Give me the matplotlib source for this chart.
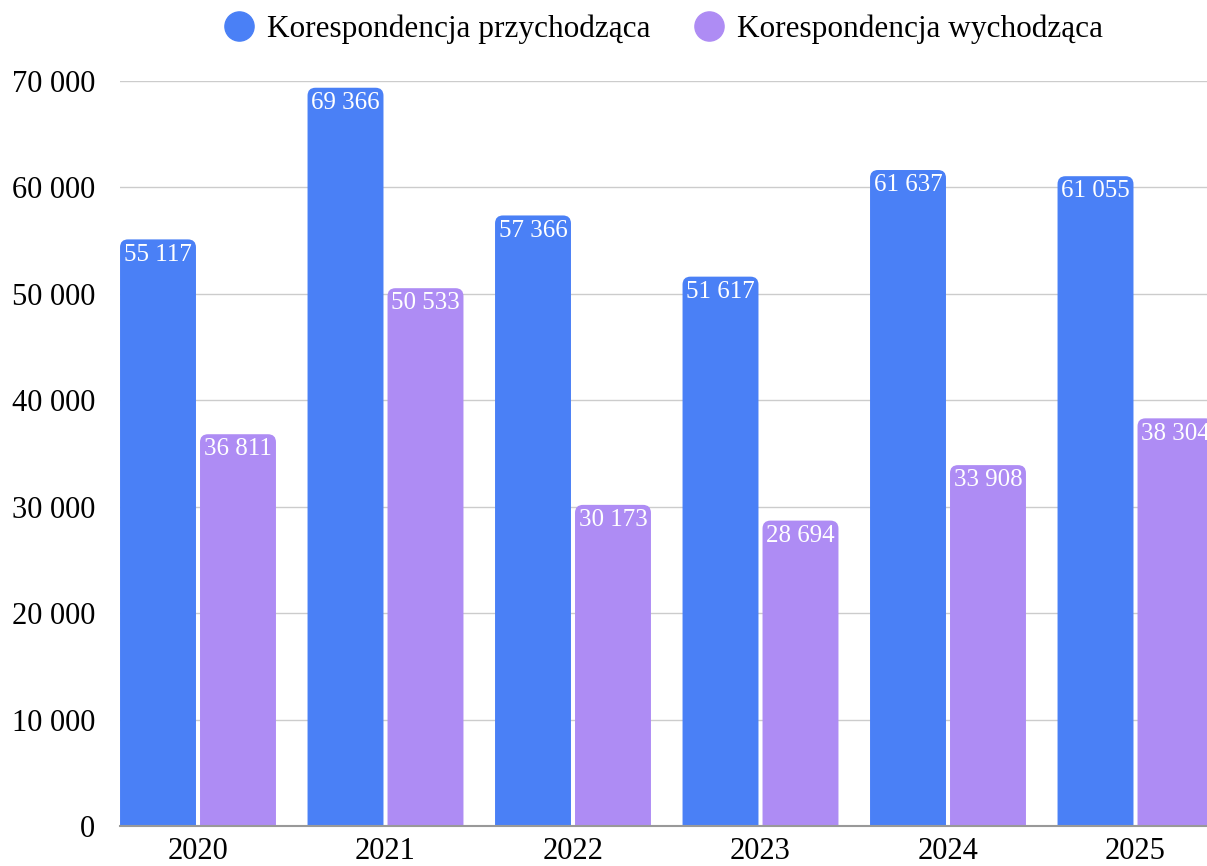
import numpy as np
import matplotlib.pyplot as plt
from matplotlib.path import Path
from matplotlib.patches import PathPatch
from matplotlib.lines import Line2D

years = ["2020", "2021", "2022", "2023", "2024", "2025"]
incoming = [55117, 69366, 57366, 51617, 61637, 61055]
outgoing = [36811, 50533, 30173, 28694, 33908, 38304]
series_names = ["Korespondencja przychodząca", "Korespondencja wychodząca"]
colors = ["#4a80f6", "#ae8cf4"]

plt.rcParams['font.family'] = ['Liberation Serif', 'DejaVu Serif']


def fmt(v):
    return f"{v:,}".replace(",", " ")


def rounded_bar(ax, x0, w, h, rx, ry, color):
    # bar with rounded top corners
    verts = [(x0, 0), (x0, h - ry), (x0, h), (x0 + rx, h),
             (x0 + w - rx, h), (x0 + w, h), (x0 + w, h - ry),
             (x0 + w, 0), (x0, 0)]
    codes = [Path.MOVETO, Path.LINETO, Path.CURVE3, Path.CURVE3,
             Path.LINETO, Path.CURVE3, Path.CURVE3, Path.LINETO, Path.CLOSEPOLY]
    ax.add_patch(PathPatch(Path(verts, codes), facecolor=color,
                           edgecolor="none", zorder=3))


fig = plt.figure(figsize=(12.07, 8.66), dpi=100)
ax = fig.add_axes([120 / 1207, 40 / 866, 1 - 120 / 1207, 745 / 866])

x = np.arange(len(years))
width = 0.405
offset = 0.2133
ymax = 70000
rx = 8 / 187.5
ry = 8 * ymax / 745

for vals, sign, color in [(incoming, -1, colors[0]), (outgoing, 1, colors[1])]:
    for xi, v in zip(x, vals):
        left = xi + sign * offset - width / 2
        rounded_bar(ax, left, width, v, rx, ry, color)
        ax.annotate(fmt(v), (xi + sign * offset, v), xytext=(0, -3),
                    textcoords="offset points", ha="center", va="top",
                    color="white", fontsize=18, zorder=4)

ax.set_xlim(-0.416, (1207 - 198) / 187.5)
ax.set_ylim(0, ymax)
ax.set_yticks(np.arange(0, ymax + 1, 10000))
ax.set_yticklabels([fmt(t) for t in np.arange(0, ymax + 1, 10000)])
ax.set_xticks(x)
ax.set_xticklabels(years)
ax.tick_params(axis="both", length=0, labelsize=22, colors="black")
ax.tick_params(axis="y", pad=18)
ax.tick_params(axis="x", pad=8)
ax.grid(axis="y", color="#cccccc", linewidth=1, zorder=0)
ax.set_axisbelow(True)
for s in ["top", "right", "left"]:
    ax.spines[s].set_visible(False)
ax.spines["bottom"].set_color("#999999")
ax.spines["bottom"].set_linewidth(1.5)
ax.spines["bottom"].set_zorder(5)

handles = [Line2D([], [], marker="o", linestyle="none", markersize=21,
                  markerfacecolor=c, markeredgecolor=c) for c in colors]
fig.legend(handles, series_names, loc="center",
           bbox_to_anchor=(ax.get_position().x0 + ax.get_position().width / 2 - 2 / 1207,
                           1 - 29 / 866),
           ncol=2, frameon=False, fontsize=22.5, handletextpad=0.3,
           columnspacing=1.25, handlelength=1.2)

fig.savefig("out.png", dpi=100)
